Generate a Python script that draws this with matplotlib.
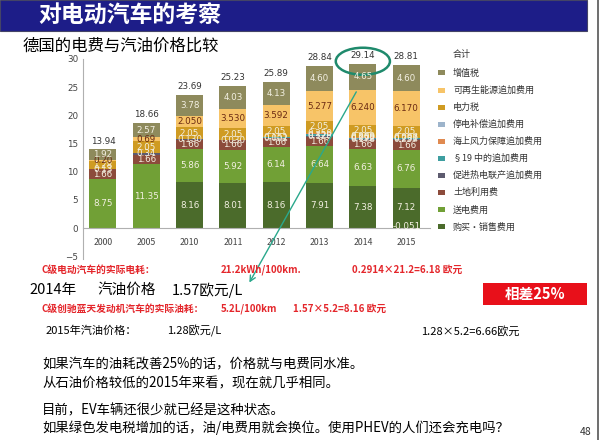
#!/usr/bin/env python3
import matplotlib as mpl
mpl.use('Agg')
import matplotlib.pyplot as plt
from matplotlib.patches import Rectangle, Ellipse
from matplotlib.lines import Line2D

# Strompreis-Bestandteile (ct/kWh), bottom to top of each bar
years = ['2000', '2005', '2010', '2011', '2012', '2013', '2014', '2015']
series_names = ['购买・销售费用', '送电费用', '土地利用费', '促进热电联产追加费用',
                '§19 中的追加费用', '海上风力保障追加费用', '停电补偿追加费用',
                '电力税', '可再生能源追加费用', '增值税']
purchase = [0, 0, 8.16, 8.01, 8.16, 7.91, 7.38, 7.12]
grid_fee = [8.75, 11.35, 5.86, 5.92, 6.14, 6.64, 6.63, 6.76]
concession = [1.66, 1.66, 1.66, 1.66, 1.66, 1.66, 1.66, 1.66]
chp = [0.13, 0.34, 0.130, 0.030, 0.002, 0.126, 0.178, 0.254]
sec19 = [0, 0, 0, 0, 0.151, 0.329, 0.092, 0.237]
offshore = [0, 0, 0, 0, 0, 0.250, 0.250, -0.051]
interrupt = [0, 0, 0, 0, 0, 0, 0.009, 0.006]
power_tax = [1.28, 2.05, 2.05, 2.05, 2.05, 2.05, 2.05, 2.05]
eeg = [0.2, 0.69, 2.050, 3.530, 3.592, 5.277, 6.240, 6.170]
vat = [1.92, 2.57, 3.78, 4.03, 4.13, 4.60, 4.65, 4.60]
totals = [13.94, 18.66, 23.69, 25.23, 25.89, 28.84, 29.14, 28.81]

series = [purchase, grid_fee, concession, chp, sec19, offshore, interrupt,
          power_tax, eeg, vat]
colors = ['#4b6b2b', '#71a036', '#8c4b3b', '#5d5b6f', '#3e9ea0', '#e08a50',
          '#9db4cb', '#cf9b22', '#f7c468', '#8e8a5c']
three_dec = {3, 4, 5, 6, 8}

W, H = 600, 440
plt.rcParams['font.family'] = ['Noto Sans CJK SC', 'DejaVu Sans']
fig = plt.figure(figsize=(6, 4.4), dpi=100)
fig.patch.set_facecolor('white')


def put(x, y, s, **kw):
    kw.setdefault('va', 'center')
    return fig.text(x / W, 1 - y / H, s, **kw)


# title bar
fig.patches.append(Rectangle((0, 1 - 31 / H), 587 / W, 31 / H,
                             transform=fig.transFigure, facecolor='#1d1d88',
                             edgecolor='#444466', lw=0.8))
fig.lines.append(Line2D([598 / W, 598 / W], [0, 1], transform=fig.transFigure,
                        color='#555555', lw=1.2))
put(38, 16, '对电动汽车的考察', color='white', fontsize=16.5, weight='bold')
put(23, 46, '德国的电费与汽油价格比较', color='black', fontsize=11.8)

# chart
ax = fig.add_axes([83 / W, 1 - 259 / H, 347 / W, 200 / H])
x = list(range(len(years)))
pos_base = [0.0] * len(years)
neg_base = [0.0] * len(years)
for k, (vals, col) in enumerate(zip(series, colors)):
    bottoms = [pos_base[i] if v >= 0 else neg_base[i] for i, v in enumerate(vals)]
    ax.bar(x, vals, width=0.62, bottom=bottoms, color=col, edgecolor='none')
    for i, v in enumerate(vals):
        if v == 0:
            continue
        if k in three_dec and i >= 2:
            lab = f'{v:.3f}'
        else:
            lab = f'{v:.2f}'
        yc = bottoms[i] + v / 2
        if v < 0:
            yc = 0.35
        tc = '#6b2a12' if k == 8 else '#f3f0e2'
        ax.text(i, yc, lab, ha='center', va='center', fontsize=6.3,
                color=tc, family='DejaVu Sans')
        if v >= 0:
            pos_base[i] += v
        else:
            neg_base[i] += v

for i, t in enumerate(totals):
    ax.text(i, pos_base[i] + 0.7, f'{t:.2f}', ha='center', va='bottom',
            fontsize=6.3, color='#333333', family='DejaVu Sans')

ax.set_xlim(-0.46, 7.55)
ax.set_ylim(-5.5, 30)
ax.set_yticks(range(-5, 31, 5))
ax.set_xticks(x)
ax.set_xticklabels(years, family='DejaVu Sans')
ax.spines['top'].set_visible(False)
ax.spines['right'].set_visible(False)
ax.spines['bottom'].set_position(('data', 0))
ax.spines['bottom'].set_color('#b0b0b0')
ax.spines['left'].set_color('#b0b0b0')
ax.tick_params(axis='both', length=0, labelsize=6.3, colors='#444444')
ax.tick_params(axis='x', pad=7)
for lbl in ax.get_yticklabels():
    lbl.set_family('DejaVu Sans')

# highlight 2014 total
ax.add_patch(Ellipse((6, 29.6), 1.25, 4.8, fill=False, edgecolor='#1f8a6c',
                     lw=1.8, clip_on=False))
ax.annotate('', xy=(248, H - 285), xycoords='figure pixels',
            xytext=(5.88, 24.6), textcoords='data',
            arrowprops=dict(arrowstyle='->', color='#2aa88c', lw=1.0))

# legend
put(453, 55, '合计', fontsize=6.5, color='#333333')
for j, k in enumerate(range(len(series_names) - 1, -1, -1)):
    yy = 73 + j * 17.1
    fig.patches.append(Rectangle((438 / W, 1 - (yy + 2.5) / H), 7 / W, 5 / H,
                                 transform=fig.transFigure,
                                 facecolor=colors[k], edgecolor='none'))
    put(453, yy, series_names[k], fontsize=6.5, color='#333333')

# texts below the chart
red = '#e4262b'
put(41, 270, 'C级电动汽车的实际电耗：', fontsize=7, color=red, weight='bold')
put(221, 270, '21.2kWh/100km.', fontsize=7, color=red, weight='bold')
put(352, 270, '0.2914×21.2=6.18 欧元', fontsize=7, color=red, weight='bold')

put(29, 290, '2014年', fontsize=10.5, color='black')
put(97, 290, '汽油价格', fontsize=10.5, color='black')
put(172, 290, '1.57欧元/L', fontsize=10.5, color='black')

fig.patches.append(Rectangle((483 / W, 1 - 305 / H), 104 / W, 22 / H,
                             transform=fig.transFigure, facecolor='#e8101a',
                             edgecolor='none'))
put(535, 294, '相差25%', fontsize=10.5, color='white', weight='bold', ha='center')

put(41, 309, 'C级创驰蓝天发动机汽车的实际油耗：', fontsize=7, color=red, weight='bold')
put(221, 309, '5.2L/100km', fontsize=7, color=red, weight='bold')
put(293, 309, '1.57×5.2=8.16 欧元', fontsize=7, color=red, weight='bold')

put(46, 331, '2015年汽油价格：', fontsize=8, color='black')
put(167, 331, '1.28欧元/L', fontsize=8, color='black')
put(421, 331, '1.28×5.2=6.66欧元', fontsize=8, color='black')

put(42, 364, '如果汽车的油耗改善25%的话，价格就与电费同水准。', fontsize=9.6)
put(42, 383, '从石油价格较低的2015年来看，现在就几乎相同。', fontsize=9.6)
put(42, 410, '目前，EV车辆还很少就已经是这种状态。', fontsize=9.6)
put(42, 428, '如果绿色发电税增加的话，油/电费用就会换位。使用PHEV的人们还会充电吗？', fontsize=9.6)
put(592, 432, '48', fontsize=7.5, color='#333333', ha='right')

fig.savefig('out.png', dpi=100)
